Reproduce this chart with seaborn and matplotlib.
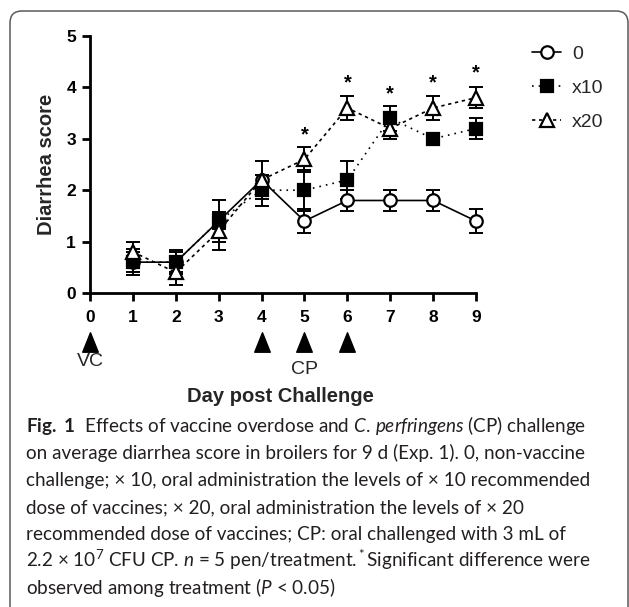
import matplotlib
matplotlib.use("Agg")
import numpy as np
import pandas as pd
import seaborn as sns
import matplotlib.pyplot as plt
from matplotlib.patches import FancyBboxPatch
from matplotlib.transforms import IdentityTransform, blended_transform_factory
from matplotlib.path import Path

# ---------------- data ----------------
days = [1, 2, 3, 4, 5, 6, 7, 8, 9]
groups = ["0", "x10", "x20"]
score_0 = [0.6, 0.6, 1.4, 2.2, 1.4, 1.8, 1.8, 1.8, 1.4]
score_x10 = [0.6, 0.6, 1.4, 2.0, 2.0, 2.2, 3.4, 3.0, 3.2]
score_x20 = [0.8, 0.4, 1.2, 2.2, 2.6, 3.6, 3.2, 3.6, 3.8]
sem_0 = [0.25, 0.24, 0.40, 0.37, 0.24, 0.20, 0.20, 0.20, 0.24]
sem_x10 = [0.20, 0.20, 0.16, 0.30, 0.40, 0.37, 0.24, 0.00, 0.20]
sem_x20 = [0.20, 0.24, 0.37, 0.10, 0.24, 0.24, 0.20, 0.24, 0.20]
star_days = [5, 6, 7, 8, 9]
star_y = [3.07, 4.08, 3.87, 4.08, 4.29]
x_ticks = [0, 1, 2, 3, 4, 5, 6, 7, 8, 9]
y_ticks = [0, 1, 2, 3, 4, 5]
event_days = [0, 4, 5, 6]
event_label_days = [0, 5]
event_labels = ["VC", "CP"]
y_label = "Diarrhea score"
x_label = "Day post Challenge"
caption_lines = [
    r"$\mathbf{Fig.\ 1}$  Effects of vaccine overdose and $\it{C.\,perfringens}$ (CP) challenge",
    "on average diarrhea score in broilers for 9 d (Exp. 1). 0, non-vaccine",
    "challenge; \u00d7 10, oral administration the levels of \u00d7 10 recommended",
    "dose of vaccines; \u00d7 20, oral administration the levels of \u00d7 20",
    "recommended dose of vaccines; CP: oral challenged with 3 mL of",
    "2.2 \u00d7 10$^7$ CFU CP. $\\it{n}$ = 5 pen/treatment.$^*$Significant difference were",
    r"observed among treatment ($\it{P}$ < 0.05)",
]

# ---------------- style ----------------
sns.set_theme(style="ticks")
plt.rcParams["font.family"] = ["Liberation Sans", "DejaVu Sans"]
plt.rcParams["mathtext.fontset"] = "custom"
plt.rcParams["mathtext.rm"] = "Lato"
plt.rcParams["mathtext.it"] = "Lato:italic"
plt.rcParams["mathtext.bf"] = "Lato:bold"

W, H = 629, 607
fig = plt.figure(figsize=(W / 100, H / 100), dpi=100)
fig.patch.set_facecolor("white")

def fx(px):
    return px / W

def fy(py):
    return 1 - py / H

ax = fig.add_axes([fx(90), fy(293), (476 - 90) / W, (293 - 36) / H])

df = pd.DataFrame({
    "day": days * 3,
    "score": score_0 + score_x10 + score_x20,
    "group": ["0"] * 9 + ["x10"] * 9 + ["x20"] * 9,
})

sns.lineplot(
    data=df, x="day", y="score", hue="group", style="group",
    hue_order=groups, style_order=groups,
    palette={g: "black" for g in groups},
    markers={"0": "o", "x10": "s", "x20": "^"},
    dashes={"0": "", "x10": (1, 3), "x20": (2, 2.2)},
    markersize=9, linewidth=1.2, ax=ax, legend=False, errorbar=None,
)

face = {"0": "white", "x10": "black", "x20": "white"}
sizes = {"0": 9, "x10": 8.5, "x20": 10}
for line, g in zip(ax.lines, groups):
    line.set_markerfacecolor(face[g])
    line.set_markeredgecolor("black")
    line.set_markeredgewidth(1.6)
    line.set_markersize(sizes[g])
    line.set_clip_on(False)
    line.set_zorder(4)

for vals, errs in [(score_0, sem_0), (score_x10, sem_x10), (score_x20, sem_x20)]:
    eb = ax.errorbar(days, vals, yerr=errs, fmt="none", ecolor="black",
                     elinewidth=1.4, capsize=5, capthick=1.4, zorder=3)
    for art in eb.lines[1] + eb.lines[2]:
        art.set_clip_on(False)

for d, yv in zip(star_days, star_y):
    ax.text(d, yv, "*", ha="center", va="center", fontsize=14.5,
            fontweight="bold", color="black")

ax.set_xlim(0, 9)
ax.set_ylim(0, 5)
ax.set_xticks(x_ticks)
ax.set_yticks(y_ticks)
ax.set_xlabel("")
ax.set_ylabel("")
sns.despine(ax=ax)
for sp in ["left", "bottom"]:
    ax.spines[sp].set_linewidth(2)
    ax.spines[sp].set_color("black")
ax.tick_params(axis="both", direction="out", length=6, width=2, colors="black",
               labelsize=12.5)
ax.tick_params(axis="x", pad=6)
ax.tick_params(axis="y", pad=4)
for lab in ax.get_xticklabels() + ax.get_yticklabels():
    lab.set_fontweight("bold")

# event triangles below axis
trans = blended_transform_factory(ax.transData, ax.transAxes)
tri = Path([(-0.4, -0.5), (0.4, -0.5), (0.0, 0.5), (-0.4, -0.5)],
           [Path.MOVETO, Path.LINETO, Path.LINETO, Path.CLOSEPOLY])
ax.plot(event_days, [-0.19] * len(event_days), linestyle="none", marker=tri,
        markersize=14, color="black", transform=trans, clip_on=False)
for d, t, yy in zip(event_label_days, event_labels, [-0.265, -0.298]):
    ax.text(d, yy, t, transform=trans, ha="center", va="center", fontsize=14)

fig.text(fx(46), fy(164), y_label, rotation=90, ha="center", va="center",
         fontsize=14.5, fontweight="bold")
fig.text(fx(280), fy(397), x_label, ha="center", va="center",
         fontsize=14.5, fontweight="bold")

# legend
leg = ax.legend(ax.lines[:3], groups, loc="upper left",
                bbox_to_anchor=(fx(532), fy(45)), bbox_transform=fig.transFigure,
                frameon=False, handlelength=1.5, handletextpad=0.55,
                labelspacing=0.85, fontsize=14, borderpad=0, borderaxespad=0)

# caption
for i, s in enumerate(caption_lines):
    fig.text(fx(26), fy(432 + 27 * i), s, ha="left", va="baseline",
             fontsize=13.6, family="Lato", color="#231f20")

# rounded border
box = FancyBboxPatch((10, -30), 618, (H - 11) + 30,
                     boxstyle="round,pad=0,rounding_size=12",
                     transform=IdentityTransform(), fill=False,
                     edgecolor="#5a5a5a", linewidth=1.1)
fig.add_artist(box)

fig.savefig("out.png", dpi=100)
